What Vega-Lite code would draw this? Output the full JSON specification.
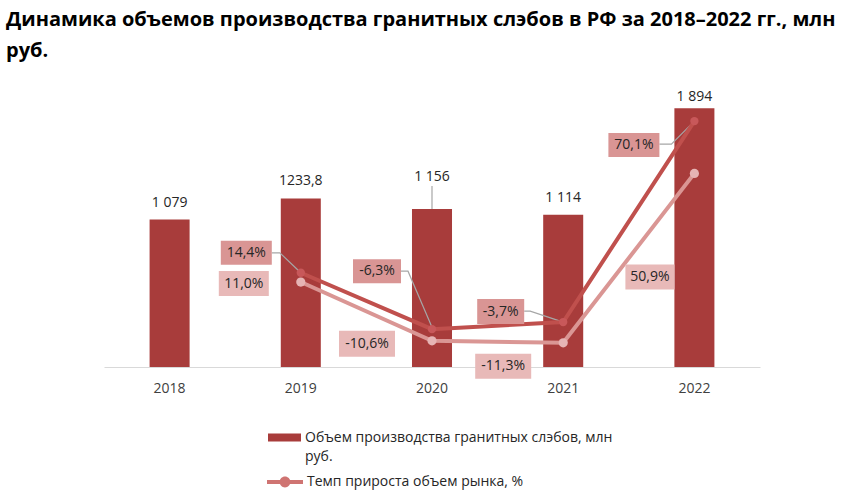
{
  "$schema": "https://vega.github.io/schema/vega-lite/v6.json",
  "autosize": {"type": "none"},
  "padding": {"left": 104, "top": 80, "right": 102, "bottom": 131},
  "width": 656,
  "height": 287,
  "background": "white",
  "title": {
    "text": ["Динамика объемов производства гранитных слэбов в РФ за 2018–2022 гг., млн", "руб."],
    "anchor": "start",
    "dx": -98,
    "offset": 19,
    "font": "Open Sans",
    "fontSize": 20,
    "fontWeight": "bold",
    "color": "#000000",
    "lineHeight": 31
  },
  "config": {
    "view": {"stroke": null},
    "font": "Open Sans",
    "axisX": {
      "title": null,
      "domainColor": "#D9D9D9",
      "domainWidth": 1,
      "ticks": false,
      "labelAngle": 0,
      "labelFont": "Open Sans",
      "labelFontSize": 14,
      "labelColor": "#404040",
      "labelPadding": 14,
      "grid": false
    },
    "legend": {"padding": 0, "labelFont": "Open Sans", "labelFontSize": 14, "labelColor": "#262626", "labelLimit": 500, "title": null}
  },
  "datasets": {
    "bars": [
      {"year": "2018", "volume": 1079, "label": "1 079"},
      {"year": "2019", "volume": 1233.8, "label": "1233,8"},
      {"year": "2020", "volume": 1156, "label": "1 156"},
      {"year": "2021", "volume": 1114, "label": "1 114"},
      {"year": "2022", "volume": 1894, "label": "1 894"}
    ],
    "growth": [
      {"year": "2019", "series": "dark", "growth": 14.4, "label": "14,4%"},
      {"year": "2020", "series": "dark", "growth": -6.3, "label": "-6,3%"},
      {"year": "2021", "series": "dark", "growth": -3.7, "label": "-3,7%"},
      {"year": "2022", "series": "dark", "growth": 70.1, "label": "70,1%"},
      {"year": "2019", "series": "light", "growth": 11.0, "label": "11,0%"},
      {"year": "2020", "series": "light", "growth": -10.6, "label": "-10,6%"},
      {"year": "2021", "series": "light", "growth": -11.3, "label": "-11,3%"},
      {"year": "2022", "series": "light", "growth": 50.9, "label": "50,9%"}
    ]
  },
  "resolve": {"scale": {"y": "independent"}},
  "layer": [
    {
      "data": {"name": "bars"},
      "encoding": {
        "x": {"field": "year", "type": "ordinal", "sort": null, "scale": {"domain": ["2018", "2019", "2020", "2021", "2022"], "paddingInner": 0.695, "paddingOuter": 0.3475}},
        "y": {"field": "volume", "type": "quantitative", "scale": {"domain": [0, 2100], "nice": false, "zero": true}, "axis": null}
      },
      "layer": [
        {
          "mark": {"type": "bar"},
          "encoding": {
            "fill": {"datum": "Объем производства гранитных слэбов, млн руб.", "scale": {"range": ["#A83C3B"]},
              "legend": {"orient": "none", "legendX": 164, "legendY": 341, "symbolType": "M-1,-0.24H1V0.24H-1Z", "symbolSize": 1089, "symbolStrokeWidth": 0, "labelExpr": "['Объем производства гранитных слэбов, млн', 'руб.']", "labelBaseline": "top", "labelOffset": 4,
                "encode": {"labels": {"update": {"lineHeight": {"value": 19}, "dy": {"value": -7}}}}}}
          }
        },
        {
          "transform": [{"filter": "datum.year != '2020' && datum.year != '2022'"}],
          "mark": {"type": "text", "baseline": "middle", "align": "center", "dy": -17, "fontSize": 14, "color": "#262626"},
          "encoding": {"text": {"field": "label"}}
        },
        {
          "transform": [{"filter": "datum.year == '2022'"}],
          "mark": {"type": "text", "baseline": "middle", "align": "center", "dy": -11, "fontSize": 14, "color": "#262626"},
          "encoding": {"text": {"field": "label"}}
        },
        {
          "transform": [{"filter": "datum.year == '2020'"}],
          "layer": [
            {"mark": {"type": "point", "shape": "M0,0V-23", "size": 4, "filled": false, "stroke": "#A6A6A6", "strokeWidth": 1.2, "opacity": 1}},
            {"mark": {"type": "text", "baseline": "middle", "align": "center", "dy": -32, "fontSize": 14, "color": "#262626"}, "encoding": {"text": {"field": "label"}}}
          ]
        }
      ]
    },
    {
      "data": {"name": "growth"},
      "encoding": {
        "x": {"field": "year", "type": "ordinal", "sort": null},
        "y": {"field": "growth", "type": "quantitative", "scale": {"domain": [-20.2, 85.2], "nice": false, "zero": false}, "axis": null}
      },
      "layer": [
        {"transform": [{"filter": "datum.series == 'dark' && datum.year == '2019'"}], "mark": {"type": "point", "shape": "M-29,-20H-21L0,0", "size": 4, "filled": false, "stroke": "#A6A6A6", "strokeWidth": 1.2, "opacity": 1}},
        {"transform": [{"filter": "datum.series == 'dark' && datum.year == '2020'"}], "mark": {"type": "point", "shape": "M-31,-58H-24L0,-2", "size": 4, "filled": false, "stroke": "#A6A6A6", "strokeWidth": 1.2, "opacity": 1}},
        {"transform": [{"filter": "datum.series == 'dark' && datum.year == '2021'"}], "mark": {"type": "point", "shape": "M-39,-11H-33L0,0", "size": 4, "filled": false, "stroke": "#A6A6A6", "strokeWidth": 1.2, "opacity": 1}},
        {"transform": [{"filter": "datum.series == 'dark' && datum.year == '2022'"}], "mark": {"type": "point", "shape": "M-35,23H-23L0,0", "size": 4, "filled": false, "stroke": "#A6A6A6", "strokeWidth": 1.2, "opacity": 1}},
        {"transform": [{"filter": "datum.series == 'light'"}], "mark": {"type": "line", "color": "#DA9694", "strokeWidth": 4}},
        {"transform": [{"filter": "datum.series == 'dark'"}], "mark": {"type": "line", "strokeWidth": 4},
          "encoding": {"stroke": {"datum": "Темп прироста объем рынка, %", "scale": {"range": ["#C0504D"]},
            "legend": {"orient": "none", "legendX": 163, "legendY": 384, "symbolType": "M-1,-0.11H1V0.11H-1Z M0.3,0A0.3,0.3 0 1 1 -0.3,0A0.3,0.3 0 1 1 0.3,0Z", "symbolSize": 1296, "symbolFillColor": "#CF7472", "symbolStrokeWidth": 0,
              "encode": {"symbols": {"update": {"fill": {"value": "#CF7472"}, "stroke": {"value": "transparent"}, "strokeWidth": {"value": 0}}}}}}}
        },
        {"transform": [{"filter": "datum.series == 'light'"}], "mark": {"type": "point", "filled": true, "color": "#E6B4B4", "size": 85, "opacity": 1}},
        {"transform": [{"filter": "datum.series == 'dark'"}], "mark": {"type": "point", "filled": true, "color": "#C8585A", "size": 70, "opacity": 1}},
        {"transform": [{"filter": "datum.series == 'dark' && datum.year == '2019'"}], "layer": [
          {"mark": {"type": "point", "shape": "M-80,-32H-29V-8H-80Z", "size": 4, "filled": true, "color": "#D99594", "opacity": 1}},
          {"mark": {"type": "text", "dx": -54.5, "dy": -20, "baseline": "middle", "fontSize": 14, "color": "#262626"}, "encoding": {"text": {"field": "label"}}}
        ]},
        {"transform": [{"filter": "datum.series == 'dark' && datum.year == '2020'"}], "layer": [
          {"mark": {"type": "point", "shape": "M-79,-70H-31V-46H-79Z", "size": 4, "filled": true, "color": "#D99594", "opacity": 1}},
          {"mark": {"type": "text", "dx": -55, "dy": -58, "baseline": "middle", "fontSize": 14, "color": "#262626"}, "encoding": {"text": {"field": "label"}}}
        ]},
        {"transform": [{"filter": "datum.series == 'dark' && datum.year == '2021'"}], "layer": [
          {"mark": {"type": "point", "shape": "M-86,-23H-39V2H-86Z", "size": 4, "filled": true, "color": "#D99594", "opacity": 1}},
          {"mark": {"type": "text", "dx": -62.5, "dy": -10.5, "baseline": "middle", "fontSize": 14, "color": "#262626"}, "encoding": {"text": {"field": "label"}}}
        ]},
        {"transform": [{"filter": "datum.series == 'dark' && datum.year == '2022'"}], "layer": [
          {"mark": {"type": "point", "shape": "M-86,12H-35V36H-86Z", "size": 4, "filled": true, "color": "#D99594", "opacity": 1}},
          {"mark": {"type": "text", "dx": -60.5, "dy": 24, "baseline": "middle", "fontSize": 14, "color": "#262626"}, "encoding": {"text": {"field": "label"}}}
        ]},
        {"transform": [{"filter": "datum.series == 'light' && datum.year == '2019'"}], "layer": [
          {"mark": {"type": "point", "shape": "M-82,-11H-32V14H-82Z", "size": 4, "filled": true, "color": "#E8B9B8", "opacity": 1}},
          {"mark": {"type": "text", "dx": -57, "dy": 1.5, "baseline": "middle", "fontSize": 14, "color": "#262626"}, "encoding": {"text": {"field": "label"}}}
        ]},
        {"transform": [{"filter": "datum.series == 'light' && datum.year == '2020'"}], "layer": [
          {"mark": {"type": "point", "shape": "M-93,-10H-37V16H-93Z", "size": 4, "filled": true, "color": "#E8B9B8", "opacity": 1}},
          {"mark": {"type": "text", "dx": -65, "dy": 3, "baseline": "middle", "fontSize": 14, "color": "#262626"}, "encoding": {"text": {"field": "label"}}}
        ]},
        {"transform": [{"filter": "datum.series == 'light' && datum.year == '2021'"}], "layer": [
          {"mark": {"type": "point", "shape": "M-88,11H-32V36H-88Z", "size": 4, "filled": true, "color": "#E8B9B8", "opacity": 1}},
          {"mark": {"type": "text", "dx": -60, "dy": 23.5, "baseline": "middle", "fontSize": 14, "color": "#262626"}, "encoding": {"text": {"field": "label"}}}
        ]},
        {"transform": [{"filter": "datum.series == 'light' && datum.year == '2022'"}], "layer": [
          {"mark": {"type": "point", "shape": "M-69,91H-20V116H-69Z", "size": 4, "filled": true, "color": "#E8B9B8", "opacity": 1}},
          {"mark": {"type": "text", "dx": -44.5, "dy": 103.5, "baseline": "middle", "fontSize": 14, "color": "#262626"}, "encoding": {"text": {"field": "label"}}}
        ]}
      ]
    }
  ]
}
